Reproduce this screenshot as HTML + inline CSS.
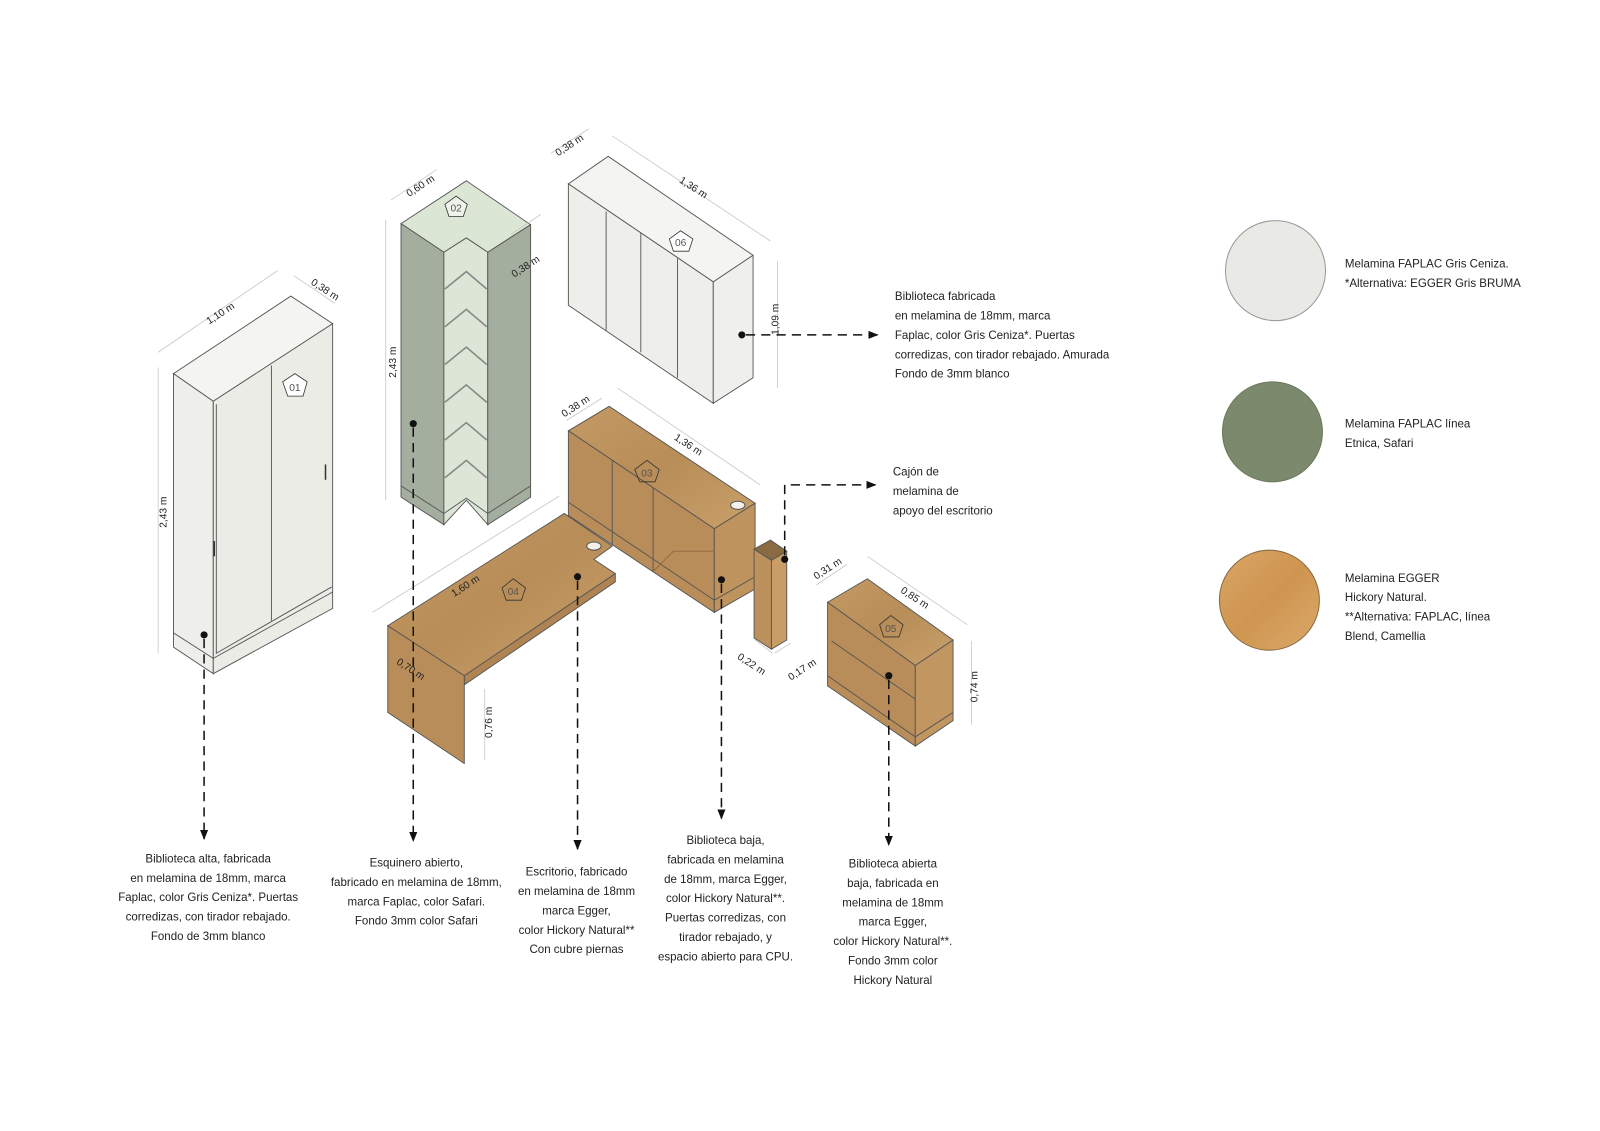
<!DOCTYPE html>
<html><head><meta charset="utf-8"><style>
html,body{margin:0;padding:0;background:#fff}
svg{display:block}
text{font-family:"Liberation Sans",sans-serif;fill:#222}
.t{font-size:11.3px}
.d{font-size:10px;fill:#555}
.dim{stroke:#c8c8c8;stroke-width:0.8;fill:none}
.e{stroke:#555;stroke-width:0.9}
.ld{stroke:#111;stroke-width:1.5;stroke-dasharray:9 6;fill:none}
</style></head><body>
<svg width="1600" height="1131" viewBox="0 0 1568 1108" xmlns="http://www.w3.org/2000/svg">
<defs>
<marker id="ar" markerWidth="10" markerHeight="8" refX="9" refY="4" orient="auto" markerUnits="userSpaceOnUse"><path d="M0,0 L10,4 L0,8 Z" fill="#111"/></marker>
<linearGradient id="wood" x1="0" y1="0" x2="1" y2="1"><stop offset="0" stop-color="#c49a64"/><stop offset="0.5" stop-color="#b88d58"/><stop offset="1" stop-color="#c9a06a"/></linearGradient>
<linearGradient id="woodc" x1="0" y1="0" x2="1" y2="1"><stop offset="0" stop-color="#d9a565"/><stop offset="0.5" stop-color="#cf9550"/><stop offset="1" stop-color="#dba96a"/></linearGradient>
</defs>

<!-- 01 -->
<g class="e">
<polygon points="170,366 285,290 326,317 209,393" fill="#f4f4f0"/>
<polygon points="170,366 209,393 209,660 170,634" fill="#eeeeea"/>
<polygon points="209,393 326,317 326,596 209,660" fill="#ececE6"/>
<polyline points="212,396 212,640 325,575" fill="none"/>
<line x1="266" y1="358" x2="266" y2="608"/>
<line x1="170" y1="620" x2="209" y2="645"/>
<line x1="209" y1="645" x2="326" y2="580"/>
</g>
<polygon points="277,374 289,366 301,374 297,388 282,388" fill="#fff" stroke="#333" stroke-width="0.8"/>
<text x="289" y="383" class="d" text-anchor="middle" fill="#222">01</text>
<line x1="210" y1="530" x2="210" y2="545" stroke="#333" stroke-width="1.5"/>
<line x1="319" y1="455" x2="319" y2="470" stroke="#333" stroke-width="1.5"/>

<!-- 02 -->
<g class="e">
<polygon points="393,219 457,177 520,220 478,247 457,233 435,247" fill="#dbe6d4"/>
<polygon points="393,219 435,247 435,514 393,487" fill="#a4ae9f"/>
<polygon points="435,247 457,233 478,247 478,514 457,490 435,514" fill="#dde6d6"/>
<polygon points="478,247 520,220 520,487 478,514" fill="#a4ae9f"/>
<polyline points="393,476 435,503 457,488 478,503 520,476" fill="none"/>
<g fill="none" stroke="#888" stroke-width="1.6">
<polyline points="436,283 457,266 477,283"/><polyline points="436,320 457,303 477,320"/><polyline points="436,357 457,340 477,357"/><polyline points="436,394 457,377 477,394"/><polyline points="436,431 457,414 477,431"/><polyline points="436,468 457,451 477,468"/>
</g>
</g>
<polygon points="436,200 447,192 458,200 454,212 440,212" fill="#eef3ea" stroke="#333" stroke-width="0.8"/>
<text x="447" y="207" class="d" text-anchor="middle" fill="#222">02</text>

<!-- 06 -->
<g class="e">
<polygon points="557,180 596,153 738,250 699,276" fill="#f4f4f0"/>
<polygon points="557,180 699,276 699,395 557,299" fill="#eeeeea"/>
<polygon points="699,276 738,250 738,370 699,395" fill="#efefeb"/>
<line x1="594" y1="207" x2="594" y2="324"/><line x1="628" y1="228" x2="628" y2="345"/><line x1="664" y1="253" x2="664" y2="370"/>
</g>
<polygon points="656,234 667,226 679,234 675,246 660,246" fill="#fff" stroke="#333" stroke-width="0.8"/>
<text x="667" y="241" class="d" text-anchor="middle" fill="#222">06</text>

<!-- 03 -->
<g class="e">
<polygon points="557,422 597,398 740,493 700,518" fill="url(#wood)"/>
<polygon points="557,422 700,518 700,600 557,505" fill="#b98d59"/>
<polygon points="700,518 740,493 740,577 700,600" fill="#bf935e"/>
<line x1="600" y1="451" x2="600" y2="534"/><line x1="640" y1="478" x2="640" y2="560"/>
<polyline points="557,492 700,588 740,565" fill="none"/>
<polyline points="640,560 660,540 700,540" fill="none" stroke="#8a6a40"/>
</g>
<ellipse cx="723" cy="495" rx="7" ry="4" fill="#f4f0e8" stroke="#555"/>
<polygon points="622,460 634,451 646,460 642,472 627,472" fill="none" stroke="#333" stroke-width="0.8"/>
<text x="634" y="467" class="d" text-anchor="middle" fill="#222">03</text>

<!-- 04 -->
<g class="e">
<polygon points="380,613 553,503 600,535 582,548 603,562 455,662" fill="url(#wood)"/>
<polygon points="455,662 603,562 603,570 455,671" fill="#b08452"/>
<polygon points="380,613 455,662 455,748 380,698" fill="#b98d59"/>
</g>
<ellipse cx="582" cy="535" rx="7" ry="4" fill="#f4f0e8" stroke="#555"/>
<polygon points="492,576 503,567 515,576 511,588 496,588" fill="none" stroke="#333" stroke-width="0.8"/>
<text x="503" y="583" class="d" text-anchor="middle" fill="#222">04</text>

<!-- pillar -->
<g class="e">
<polygon points="739,538 755,529 771,540 756,549" fill="#8a6a40"/>
<polygon points="739,538 756,549 756,636 739,625" fill="#bd915c"/>
<polygon points="756,549 771,540 771,627 756,636" fill="#c99d66"/>
</g>

<!-- 05 -->
<g class="e">
<polygon points="811,590 850,567 934,627 897,652" fill="url(#wood)"/>
<polygon points="811,590 897,652 897,731 811,672" fill="#b98d59"/>
<polygon points="897,652 934,627 934,706 897,731" fill="#c29660"/>
<polyline points="815,628 897,685" fill="none"/>
<polyline points="811,662 897,722 934,698" fill="none"/>
</g>
<polygon points="862,612 873,603 885,612 881,624 866,624" fill="none" stroke="#333" stroke-width="0.8"/>
<text x="873" y="619" class="d" text-anchor="middle" fill="#222">05</text>

<!-- dimension lines -->
<g class="dim">
<line x1="155" y1="345" x2="272" y2="265"/><line x1="288" y1="270" x2="328" y2="297"/>
<line x1="155" y1="360" x2="155" y2="640"/>
<line x1="383" y1="196" x2="428" y2="166"/><line x1="378" y1="215" x2="378" y2="490"/>
<line x1="500" y1="230" x2="530" y2="210"/>
<line x1="540" y1="150" x2="577" y2="126"/><line x1="600" y1="133" x2="755" y2="236"/><line x1="762" y1="256" x2="762" y2="380"/>
<line x1="555" y1="412" x2="590" y2="390"/><line x1="605" y1="380" x2="745" y2="475"/>
<line x1="365" y1="600" x2="548" y2="486"/><line x1="475" y1="675" x2="475" y2="745"/>
<line x1="740" y1="627" x2="757" y2="640"/><line x1="759" y1="640" x2="775" y2="630"/>
<line x1="800" y1="573" x2="830" y2="553"/><line x1="850" y1="545" x2="948" y2="612"/><line x1="952" y1="628" x2="952" y2="710"/>
</g>
<g class="d">
<text transform="translate(205,318) rotate(-33)">1,10 m</text>
<text transform="translate(304,278) rotate(33)">0,38 m</text>
<text transform="translate(163,517) rotate(-90)">2,43 m</text>
<text transform="translate(401,193) rotate(-33)">0,60 m</text>
<text transform="translate(388,370) rotate(-90)">2,43 m</text>
<text transform="translate(504,272) rotate(-33)">0,38 m</text>
<text transform="translate(547,153) rotate(-33)">0,38 m</text>
<text transform="translate(665,178) rotate(33)">1,36 m</text>
<text transform="translate(763,328) rotate(-90)">1,09 m</text>
<text transform="translate(553,409) rotate(-33)">0,38 m</text>
<text transform="translate(660,430) rotate(33)">1,36 m</text>
<text transform="translate(445,585) rotate(-33)">1,60 m</text>
<text transform="translate(388,650) rotate(33)">0,70 m</text>
<text transform="translate(482,723) rotate(-90)">0,76 m</text>
<text transform="translate(722,645) rotate(33)">0,22 m</text>
<text transform="translate(775,667) rotate(-33)">0,17 m</text>
<text transform="translate(800,568) rotate(-33)">0,31 m</text>
<text transform="translate(882,580) rotate(33)">0,85 m</text>
<text transform="translate(958,688) rotate(-90)">0,74 m</text>
</g>

<!-- leaders -->
<g fill="#111"><circle cx="200" cy="622" r="3.5"/><circle cx="405" cy="415" r="3.5"/><circle cx="566" cy="565" r="3.5"/><circle cx="707" cy="568" r="3.5"/><circle cx="871" cy="662" r="3.5"/><circle cx="727" cy="328" r="3.5"/><circle cx="769" cy="548" r="3.5"/></g>
<g class="ld">
<line x1="200" y1="626" x2="200" y2="822" marker-end="url(#ar)"/>
<line x1="405" y1="419" x2="405" y2="824" marker-end="url(#ar)"/>
<line x1="566" y1="569" x2="566" y2="832" marker-end="url(#ar)"/>
<line x1="707" y1="572" x2="707" y2="802" marker-end="url(#ar)"/>
<line x1="871" y1="666" x2="871" y2="828" marker-end="url(#ar)"/>
<line x1="731" y1="328" x2="860" y2="328" marker-end="url(#ar)"/>
<polyline points="769,544 769,475 858,475" marker-end="url(#ar)"/>
</g>

<!-- texts -->
<g class="t" text-anchor="middle">
<text x="204" y="845">Biblioteca alta, fabricada</text><text x="204" y="864">en melamina de 18mm, marca</text><text x="204" y="883">Faplac, color Gris Ceniza*. Puertas</text><text x="204" y="902">corredizas, con tirador rebajado.</text><text x="204" y="921">Fondo de 3mm blanco</text>
<text x="408" y="849">Esquinero abierto,</text><text x="408" y="868">fabricado en melamina de 18mm,</text><text x="408" y="887">marca Faplac, color Safari.</text><text x="408" y="906">Fondo 3mm color Safari</text>
<text x="565" y="858">Escritorio, fabricado</text><text x="565" y="877">en melamina de 18mm</text><text x="565" y="896">marca Egger,</text><text x="565" y="915">color Hickory Natural**</text><text x="565" y="934">Con cubre piernas</text>
<text x="711" y="827">Biblioteca baja,</text><text x="711" y="846">fabricada en melamina</text><text x="711" y="865">de 18mm, marca Egger,</text><text x="711" y="884">color Hickory Natural**.</text><text x="711" y="903">Puertas corredizas, con</text><text x="711" y="922">tirador rebajado, y</text><text x="711" y="941">espacio abierto para CPU.</text>
<text x="875" y="850">Biblioteca abierta</text><text x="875" y="869">baja, fabricada en</text><text x="875" y="888">melamina de 18mm</text><text x="875" y="907">marca Egger,</text><text x="875" y="926">color Hickory Natural**.</text><text x="875" y="945">Fondo 3mm color</text><text x="875" y="964">Hickory Natural</text>
</g>
<g class="t">
<text x="877" y="294">Biblioteca fabricada</text><text x="877" y="313">en melamina de 18mm, marca</text><text x="877" y="332">Faplac, color Gris Ceniza*. Puertas</text><text x="877" y="351">corredizas, con tirador rebajado. Amurada</text><text x="877" y="370">Fondo de 3mm blanco</text>
<text x="875" y="466">Cajón de</text><text x="875" y="485">melamina de</text><text x="875" y="504">apoyo del escritorio</text>
<text x="1318" y="262">Melamina FAPLAC Gris Ceniza.</text><text x="1318" y="281">*Alternativa: EGGER Gris BRUMA</text>
<text x="1318" y="419">Melamina FAPLAC línea</text><text x="1318" y="438">Etnica, Safari</text>
<text x="1318" y="570">Melamina EGGER</text><text x="1318" y="589">Hickory Natural.</text><text x="1318" y="608">**Alternativa: FAPLAC, línea</text><text x="1318" y="627">Blend, Camellia</text>
</g>
<circle cx="1250" cy="265" r="49" fill="#e9e9e5" stroke="#999" stroke-width="1"/>
<circle cx="1247" cy="423" r="49" fill="#7b8a6c" stroke="#6a775d" stroke-width="1"/>
<circle cx="1244" cy="588" r="49" fill="url(#woodc)" stroke="#8a6a40" stroke-width="1"/>
</svg>
</body></html>
